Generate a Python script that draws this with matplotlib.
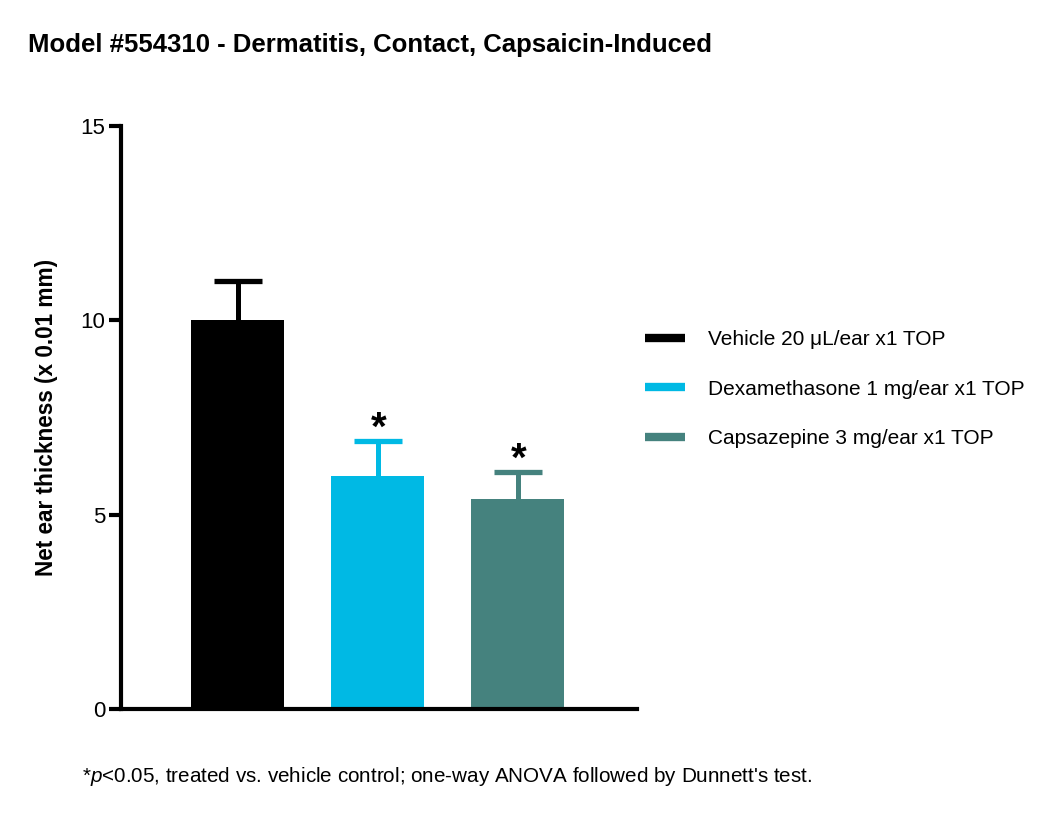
import numpy as np
import matplotlib
matplotlib.use("Agg")
from matplotlib import pyplot as plt
from matplotlib.lines import Line2D

plt.rcParams['font.family'] = ['Liberation Sans', 'DejaVu Sans']
plt.rcParams['mathtext.fontset'] = 'custom'
plt.rcParams['mathtext.it'] = 'Liberation Sans:italic'
plt.rcParams['mathtext.rm'] = 'Liberation Sans'

# data
groups = ['Vehicle 20 \u03bcL/ear x1 TOP',
          'Dexamethasone 1 mg/ear x1 TOP',
          'Capsazepine 3 mg/ear x1 TOP']
means = [10.0, 6.0, 5.4]
sems = [1.0, 0.9, 0.7]
signif = [False, True, True]
colors = ['#000000', '#00B9E4', '#45827E']
yticks = [0, 5, 10, 15]

fig = plt.figure(figsize=(10.5, 8.17), dpi=100)
ax = fig.add_axes([121/1050, 1-709/817, (637-121)/1050, (709-126)/817])

x = np.arange(len(groups))
for i in range(len(groups)):
    ax.bar(x[i], means[i], width=0.664, color=colors[i], zorder=2)
    eb = ax.errorbar(x[i], means[i], yerr=[[0], [sems[i]]], fmt='none',
                     ecolor=colors[i], elinewidth=3.6, capsize=17, capthick=3.8, zorder=1)
    eb[1][0].remove()  # no cap at the bar top
    if signif[i]:
        ax.text(x[i] + 0.01, means[i] + sems[i] + 0.32, '*', ha='center', va='center',
                fontsize=29, fontweight='bold')

ax.set_xlim(-0.836, 2.854)
ax.set_ylim(0, 15)
ax.set_yticks(yticks)
ax.set_xticks([])
for s in ['top', 'right']:
    ax.spines[s].set_visible(False)
for s in ['left', 'bottom']:
    ax.spines[s].set_linewidth(3)
ax.tick_params(axis='y', length=8.5, width=3, labelsize=16, pad=3)
ax.set_ylabel('Net ear thickness (x 0.01 mm)', fontsize=16.3, fontweight='bold', labelpad=16)

handles = [Line2D([], [], color=c, lw=6, solid_capstyle='butt') for c in colors]
fig.legend(handles, groups, loc='upper left', bbox_to_anchor=(645/1050, 1-330/817),
           frameon=False, fontsize=15, handlelength=1.9, handletextpad=1.1,
           labelspacing=1.47, borderpad=0, borderaxespad=0)

fig.text(28/1050, 1-45/817, 'Model #554310 - Dermatitis, Contact, Capsaicin-Induced',
         fontsize=18.5, fontweight='bold', va='center', ha='left')
fig.text(82/1050, 1-776/817,
         "*$\\mathit{p}$<0.05, treated vs. vehicle control; one-way ANOVA followed by Dunnett's test.",
         fontsize=14.9, va='center', ha='left')

fig.savefig('out.png', dpi=100)
